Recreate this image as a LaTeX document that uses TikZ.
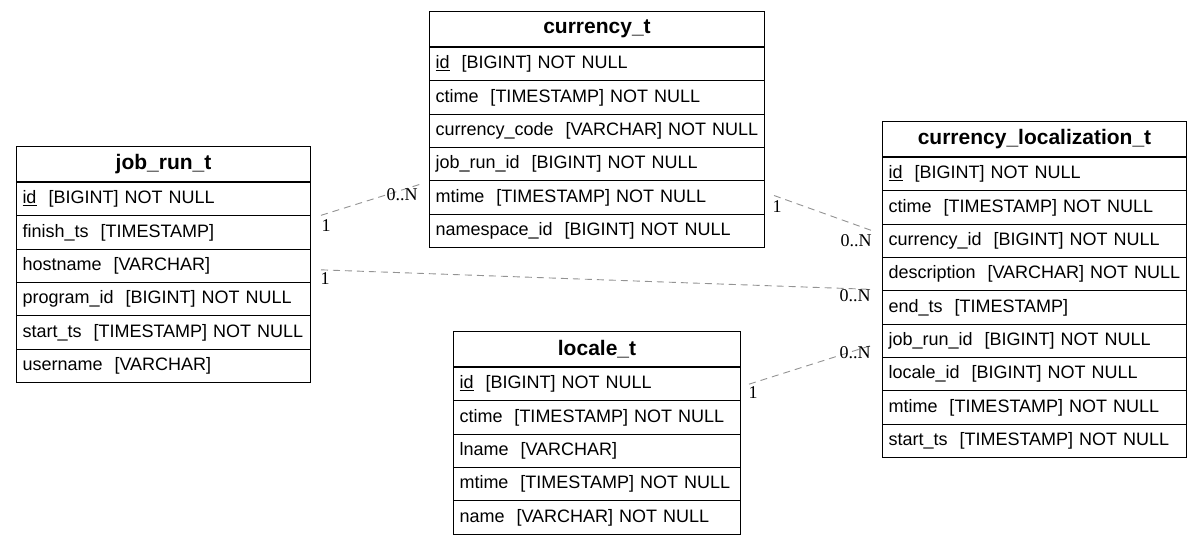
\documentclass[tikz,border=0pt]{standalone}
\usepackage{fontspec}
\setmainfont{Liberation Sans}
\newfontfamily\lblfont{Liberation Serif}
\usetikzlibrary{calc}
\tikzset{
  tbl/.style={draw=black, line width=1pt, inner sep=0pt, anchor=north west},
  hdr/.style={tbl, minimum height=35pt, font=\bfseries\fontsize{21}{24}\selectfont, align=center},
  fld/.style={tbl, minimum height=33.33pt, font=\fontsize{18}{20}\selectfont, inner xsep=6pt, align=left},
  rel/.style={draw=gray!85, dash pattern=on 7pt off 5pt, line width=0.9pt},
  card/.style={font=\lblfont\fontsize{18}{20}\selectfont, inner sep=0pt},
}
\newcommand\ertable[6]{%
  \node[hdr, minimum width=#4pt] (#1) at (#2pt,-#3pt) {#5};
  \pgfmathsetmacro\ertw{#4-12}
  \foreach \r [count=\i] in {#6} {
    \node[fld, text width=\ertw pt] (#1-\i) at ($(#1.south west)+(0,{-(\i-1)*33.33pt})$) {\r};
  }
}
\begin{document}
\begin{tikzpicture}
\fill[white] (0,0) rectangle (1201pt,-544pt);
\useasboundingbox (0,0) rectangle (1201pt,-544pt);

\ertable{jr}{16}{146}{294}{job\_run\_t}{\underline{id}\ \ [BIGINT] NOT NULL, finish\_ts\ \ [TIMESTAMP], hostname\ \ [VARCHAR], program\_id\ \ [BIGINT] NOT NULL, start\_ts\ \ [TIMESTAMP] NOT NULL, username\ \ [VARCHAR]}

\ertable{cu}{429}{11}{335}{currency\_t}{\underline{id}\ \ [BIGINT] NOT NULL, ctime\ \ [TIMESTAMP] NOT NULL, currency\_code\ \ [VARCHAR] NOT NULL, job\_run\_id\ \ [BIGINT] NOT NULL, mtime\ \ [TIMESTAMP] NOT NULL, namespace\_id\ \ [BIGINT] NOT NULL}

\ertable{lo}{453}{331}{287}{locale\_t}{\underline{id}\ \ [BIGINT] NOT NULL, ctime\ \ [TIMESTAMP] NOT NULL, lname\ \ [VARCHAR], mtime\ \ [TIMESTAMP] NOT NULL, name\ \ [VARCHAR] NOT NULL}

\ertable{cl}{882}{121}{304}{currency\_localization\_t}{\underline{id}\ \ [BIGINT] NOT NULL, ctime\ \ [TIMESTAMP] NOT NULL, currency\_id\ \ [BIGINT] NOT NULL, description\ \ [VARCHAR] NOT NULL, end\_ts\ \ [TIMESTAMP], job\_run\_id\ \ [BIGINT] NOT NULL, locale\_id\ \ [BIGINT] NOT NULL, mtime\ \ [TIMESTAMP] NOT NULL, start\_ts\ \ [TIMESTAMP] NOT NULL}

% connectors
\draw[rel] ($(jr-1.south east)+(10pt,1pt)$) -- ($(cu-4.south west)+(-9pt,-3pt)$);
\draw[rel] ($(cu-5.east)+(9pt,2pt)$) -- ($(cl-2.south west)+(-10pt,-6pt)$);
\draw[rel] ($(jr-3.east)+(10pt,-4pt)$) -- ($(cl-4.south west)+(-12pt,2pt)$);
\draw[rel] ($(lo-1.east)+(8pt,0pt)$) -- ($(cl-6.west)+(-12pt,-5pt)$);

% cardinalities
\node[card] (c1a) at (326pt,-226pt) {1};
\node[card] (c1b) at (402pt,-195pt) {0..N};
\node[card] (c2a) at (777pt,-207pt) {1};
\node[card] (c2b) at (856pt,-241pt) {0..N};
\node[card] (c3a) at (325pt,-279pt) {1};
\node[card] (c3b) at (855pt,-296pt) {0..N};
\node[card] (c4a) at (753pt,-393pt) {1};
\node[card] (c4b) at (855pt,-353pt) {0..N};
\end{tikzpicture}
\end{document}
